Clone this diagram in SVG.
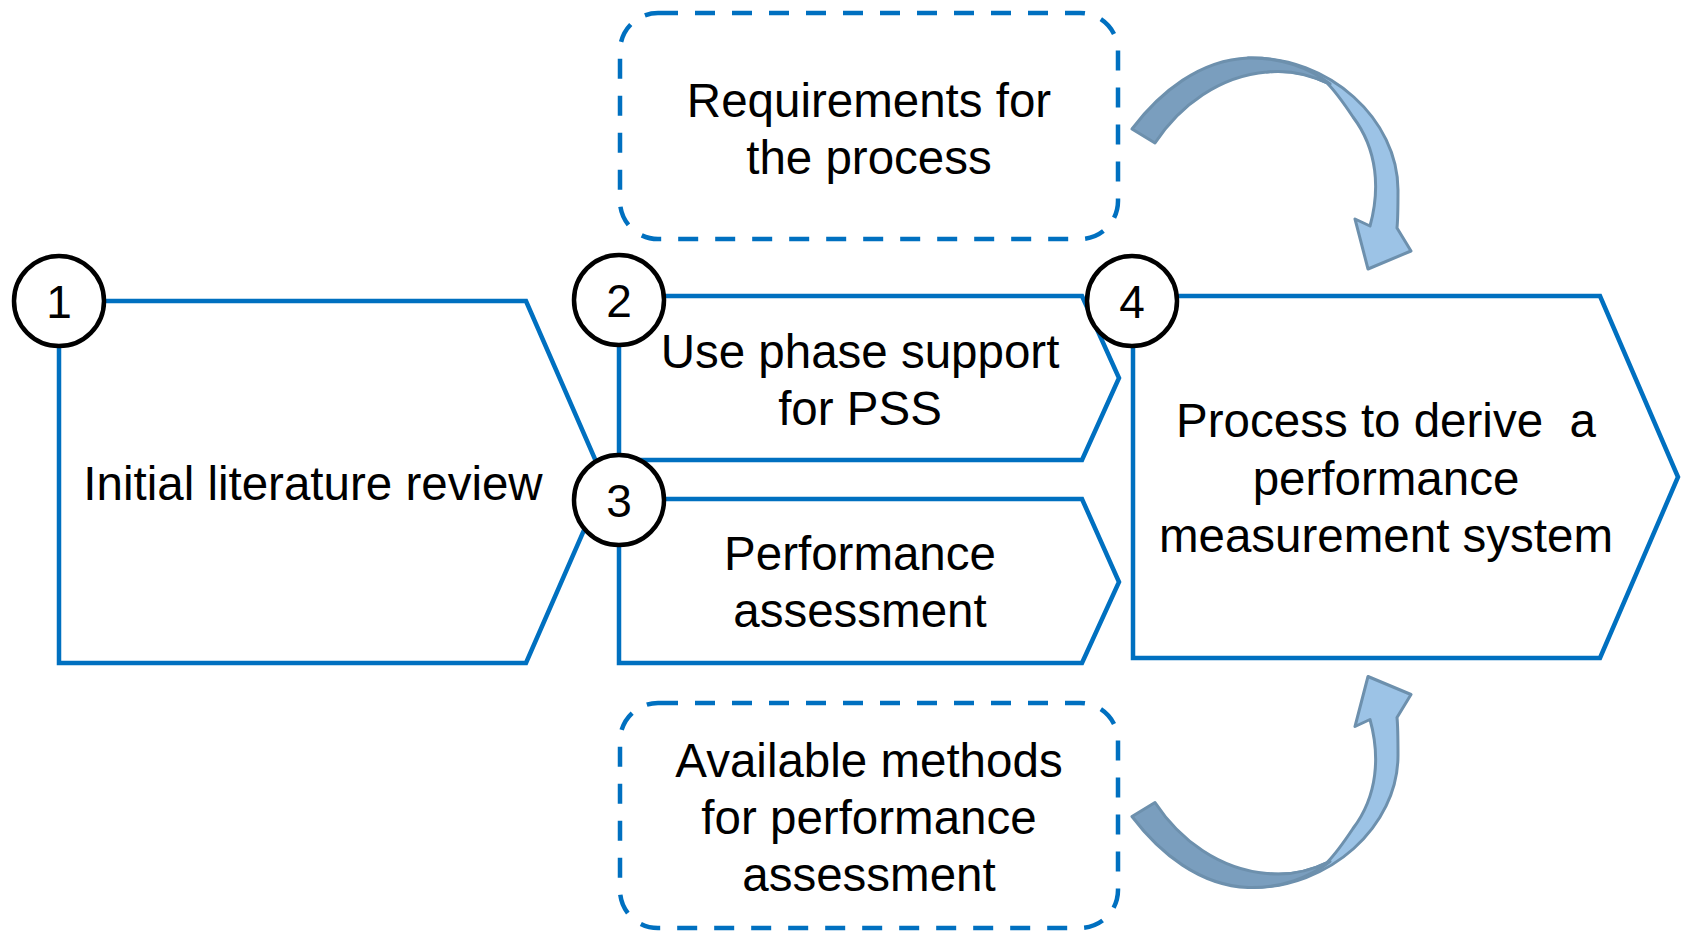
<svg xmlns="http://www.w3.org/2000/svg" width="1683" height="931" viewBox="0 0 1683 931">
  <defs>
    <style>
      .step { fill: #ffffff; stroke: #0070C0; stroke-width: 4.5; stroke-linejoin: miter; }
      .input { fill: #ffffff; stroke: #0070C0; stroke-width: 4.5; stroke-dasharray: 20 17; }
      .badge { fill: #ffffff; stroke: #000000; stroke-width: 4.5; }
      .label { font-family: "Liberation Sans", Arial, sans-serif; font-size: 47.5px; fill: #000000; text-anchor: middle; }
      .num { font-family: "Liberation Sans", Arial, sans-serif; font-size: 46px; fill: #000000; text-anchor: middle; }
      .arrow-front { fill: #9CC3E6; stroke: #6D90AD; stroke-width: 3; stroke-linejoin: round; }
      .arrow-back { fill: #7A9EBE; stroke: #6D90AD; stroke-width: 3; stroke-linejoin: round; }
    </style>
    <!-- curved feedback arrow, drawn once and reused (mirrored for the lower one) -->
    <g id="curved-arrow">
      <path class="arrow-front" d="M 1248,58 C 1330,56 1398,120 1398,190 C 1398,205 1398,218 1397,228 L 1411,251 L 1368,269 L 1355,219 L 1370,226 C 1380,190 1378,150 1353,117 C 1345,105 1337,93 1327,83 C 1305,72 1285,70 1267,72 Z"/>
      <path class="arrow-back" d="M 1132,129 C 1160,92 1200,60 1248,58 C 1280,57 1310,68 1330,84 C 1305,72 1285,70 1267,72 C 1220,76 1180,105 1155,143 Z"/>
    </g>
  </defs>

  <rect width="1683" height="931" fill="#ffffff"/>

  <!-- feedback arrows -->
  <g id="connectors">
    <use href="#curved-arrow"/>
    <use href="#curved-arrow" transform="translate(0,945.5) scale(1,-1)"/>
  </g>

  <!-- inputs -->
  <g id="requirements">
    <rect class="input" x="620" y="13" width="498" height="226" rx="38" ry="38"/>
    <text class="label" x="869" y="117">Requirements for</text>
    <text class="label" x="869" y="174">the process</text>
  </g>

  <g id="methods">
    <rect class="input" x="620" y="703" width="498" height="225" rx="38" ry="38"/>
    <text class="label" x="869" y="777">Available methods</text>
    <text class="label" x="869" y="834">for performance</text>
    <text class="label" x="869" y="891">assessment</text>
  </g>

  <!-- process steps -->
  <g id="step1">
    <path class="step" d="M 59,301 L 526,301 L 605,482 L 526,663 L 59,663 Z"/>
    <text class="label" x="313" y="500">Initial literature review</text>
  </g>

  <g id="step2">
    <path class="step" d="M 619,296 L 1082,296 L 1119,378 L 1082,460 L 619,460 Z"/>
    <text class="label" x="860" y="368">Use phase support</text>
    <text class="label" x="860" y="425">for PSS</text>
  </g>

  <g id="step3">
    <path class="step" d="M 619,499 L 1082,499 L 1119,582 L 1082,663 L 619,663 Z"/>
    <text class="label" x="860" y="570">Performance</text>
    <text class="label" x="860" y="627">assessment</text>
  </g>

  <g id="step4">
    <path class="step" d="M 1133,296 L 1600,296 L 1678,477 L 1600,658 L 1133,658 Z"/>
    <text class="label" x="1386" y="437" xml:space="preserve">Process to derive  a</text>
    <text class="label" x="1386" y="495">performance</text>
    <text class="label" x="1386" y="552">measurement system</text>
  </g>

  <!-- step numbers -->
  <g id="badge1">
    <circle class="badge" cx="59" cy="301" r="45"/>
    <text class="num" x="59" y="318">1</text>
  </g>
  <g id="badge2">
    <circle class="badge" cx="619" cy="300" r="45"/>
    <text class="num" x="619" y="317">2</text>
  </g>
  <g id="badge3">
    <circle class="badge" cx="619" cy="500" r="45"/>
    <text class="num" x="619" y="517">3</text>
  </g>
  <g id="badge4">
    <circle class="badge" cx="1132" cy="301" r="45"/>
    <text class="num" x="1132" y="318">4</text>
  </g>
</svg>
